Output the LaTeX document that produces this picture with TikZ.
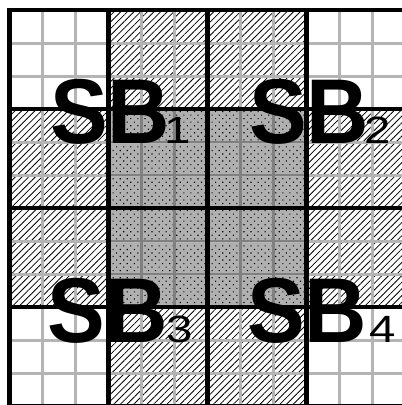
\documentclass[tikz,border=0pt]{standalone}
\usepackage{fontspec}
\setmainfont{Liberation Sans}
\usepackage{graphicx}
\usetikzlibrary{patterns.meta}
\definecolor{gridgray}{RGB}{180,180,180}
\definecolor{darkgridgray}{RGB}{128,128,128}
\definecolor{fillgray}{RGB}{176,176,176}
\tikzset{
  hatchfill/.style={pattern={Lines[angle=45,distance=4.7pt,line width=0.8pt]}, pattern color=black},
  dotsfill/.style={pattern={Dots[angle=45,distance=5pt,radius=0.8pt]}, pattern color=black},
  gridline/.style={draw=gridgray, line width=3pt},
  darkgridline/.style={draw=darkgridgray, line width=2.6pt},
  blockline/.style={draw=black, line width=4.4pt},
  sblabel/.style={anchor=base west, inner sep=0pt},
}
\newcommand{\sblbl}[2]{{\fontsize{92}{92}\selectfont\bfseries\scalebox{0.94}[1]{SB}}\kern#1pt{\fontsize{38}{38}\selectfont\scalebox{1.25}[1]{#2}}}
\begin{document}
\begin{tikzpicture}[x=1pt,y=-1pt]
\useasboundingbox (0,0) rectangle (402,405);
\fill[white] (0,0) rectangle (402,405);
\clip (0,0) rectangle (402,405);
\begin{scope}[shift={(9.5pt,-10pt)}, x=33pt, y=-33pt]
  % hatched edge blocks
  \fill[hatchfill] (3,0) rectangle (9,3);
  \fill[hatchfill] (3,9) rectangle (9,12);
  \fill[hatchfill] (0,3) rectangle (3,9);
  \fill[hatchfill] (9,3) rectangle (12,9);
  % dotted centre
  \fill[fillgray] (3,3) rectangle (9,9);
  \fill[dotsfill] (3,3) rectangle (9,9);
  % thin grid
  \foreach \i in {1,2,4,5,7,8,10,11} {
    \draw[gridline] (\i,0) -- (\i,12);
    \draw[gridline] (0,\i) -- (12,\i);
  }
  \foreach \i in {4,5,7,8} {
    \draw[darkgridline] (\i,3) -- (\i,9);
    \draw[darkgridline] (3,\i) -- (9,\i);
  }
  % thick block lines
  \foreach \i in {0,3,6,9,12} {
    \draw[blockline] (\i,-0.07) -- (\i,12.07);
    \draw[blockline] (-0.07,\i) -- (12.07,\i);
  }
\end{scope}
% labels
\node[sblabel] (sb1) at (49.9,143) {\sblbl{-6}{1}};
\node[sblabel] (sb2) at (249,143) {\sblbl{-4.6}{2}};
\node[sblabel] (sb3) at (47.5,342) {\sblbl{-1}{3}};
\node[sblabel] (sb4) at (247,342) {\sblbl{2}{4}};
\end{tikzpicture}
\end{document}
